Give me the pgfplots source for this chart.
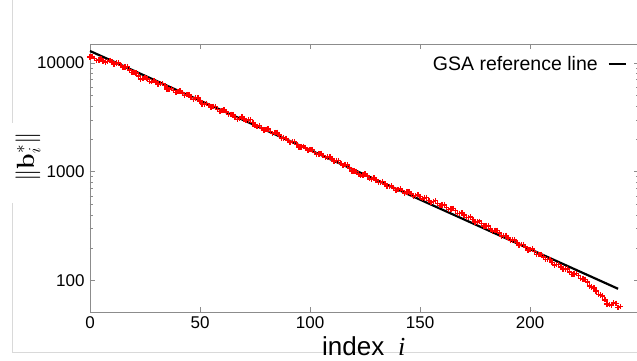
\documentclass[border=0pt]{standalone}
\usepackage{pgfplots}
\pgfplotsset{compat=1.18}
\usepackage[no-math]{fontspec}
\setmainfont{Liberation Sans}
\newfontfamily\serifit{Liberation Serif}
\pgfplotstableread{
x y
0 11350
1 11400
2 11000
3 10500
4 10660
5 10870
6 10440
7 10180
8 10330
9 10590
10 10230
11 9820
12 10020
13 9960
14 9506
15 9080
16 9210
17 9290
18 8650
19 8180
20 8210
21 8080
22 7630
23 7100
24 7160
25 7370
26 7160
27 6730
28 6720
29 6890
30 6650
31 6420
32 6450
33 6450
34 6190
35 5760
36 5690
37 5800
38 5570
39 5350
40 5460
41 5540
42 5290
43 5050
44 5120
45 5060
46 4810
47 4640
48 4760
49 4750
50 4470
51 4200
52 4200
53 4260
54 4070
55 3950
56 3990
57 3980
58 3740
59 3590
60 3660
61 3710
62 3550
63 3360
64 3370
65 3330
66 3160
67 3040
68 3100
69 3180
70 3070
71 2970
72 3000
73 3010
74 2850
75 2650
76 2620
77 2660
78 2540
79 2430
80 2460
81 2470
82 2340
83 2250
84 2290
85 2310
86 2190
87 2050
88 2040
89 2030
90 1950
91 1860
92 1890
93 1890
94 1780
95 1680
96 1690
97 1720
98 1650
99 1580
100 1600
101 1600
102 1500
103 1440
104 1460
105 1480
106 1410
107 1350
108 1370
109 1380
110 1310
111 1250
112 1270
113 1270
114 1190
115 1140
116 1170
117 1160
118 1090
119 1020
120 1020
121 1010
122 958
123 920
124 938
125 956
126 919
127 864
128 863
129 880
130 845
131 798
132 802
133 813
134 777
135 731
136 730
137 740
138 707
139 675
140 685
141 698
142 671
143 641
144 651
145 656
146 624
147 596
148 605
149 616
150 592
151 566
152 574
153 582
154 545
155 523
156 533
157 543
158 512
159 489
160 496
161 497
162 470
163 449
164 456
165 462
166 442
167 416
168 415
169 421
170 402
171 380
172 381
173 385
174 366
175 346
176 347
177 352
178 336
179 318
180 319
181 319
182 300
183 286
184 290
185 290
186 273
187 258
188 259
189 261
190 248
191 235
192 236
193 237
194 224
195 212
196 214
197 215
198 203
199 192
200 193
201 195
202 185
203 174
204 174
205 174
206 165
207 156
208 156
209 156
210 147
211 140
212 141
213 141
214 134
215 127
216 128
217 128
218 120
219 114
220 115
221 117
222 112
223 105
224 104
225 103
226 97.5
227 89.7
228 87.8
229 85.9
230 80.7
231 75.1
232 74.2
233 72.6
234 66.8
235 60.9
236 60.1
237 59.6
238 62.7
239 62.0
240 56.5
241 58.0
}\normsdata
\pgfplotstableread{
x y
0 12880
240 84.3
}\gsadata
\begin{document}
\begin{tikzpicture}
\useasboundingbox (-90pt,-49pt) rectangle (547pt,312pt);
\draw[black!15, line width=0.8pt] (-78pt,312pt) -- (-78pt,189pt);
\draw[black!15, line width=0.8pt] (-78pt,109pt) -- (-78pt,-40pt) -- (547pt,-40pt);
\begin{axis}[
  at={(0pt,0pt)}, anchor=south west,
  scale only axis, width=549pt, height=268pt,
  xmin=0, xmax=249.5,
  ymode=log, ymin=51.6, ymax=14940,
  xtick={0,50,100,150,200},
  ytick={100,1000,10000},
  log ticks with fixed point,
  /pgf/number format/1000 sep={},
  /pgf/number format/assume math mode=true,
  ticklabel style={font=\fontsize{17}{20}\selectfont, text=black},
  xticklabel style={yshift=-1pt},
  yticklabel style={xshift=-2pt},
  axis line style={black!45, line width=0.9pt},
  tick style={black!45, line width=0.7pt},
  major tick length=5pt, minor tick length=3pt,
  tick align=inside,
  xlabel={index {\serifit\itshape\ i}},
  xlabel style={at={(axis description cs:0.4226,0)}, anchor=base west, yshift=-44pt, inner sep=0pt, font=\fontsize{26}{30}\selectfont},
  ylabel={$\|\mathbf{b}^{*}_{i}\|$},
  ylabel style={at={(axis description cs:-0.113,0.578)}, anchor=center, rotate=0, font=\fontsize{24}{28}\selectfont},
  legend style={at={(axis description cs:0.978,0.925)}, anchor=east, draw=none, fill=none, inner sep=0pt, font=\fontsize{19.5}{22}\selectfont, /tikz/every odd column/.append style={column sep=8pt}},
  legend plot pos=right,
  legend image code/.code={\draw[line width=2pt] (0pt,0pt) -- (17pt,0pt);},
  clip=false,
]
\addplot[only marks, red, mark=+, mark size=2.7pt, mark options={line width=1.5pt}, forget plot] table[x=x,y=y] {\normsdata};
\addplot[black, line width=2.2pt] table[x=x,y=y] {\gsadata};
\addlegendentry{GSA reference line}
\end{axis}
\end{tikzpicture}
\end{document}
